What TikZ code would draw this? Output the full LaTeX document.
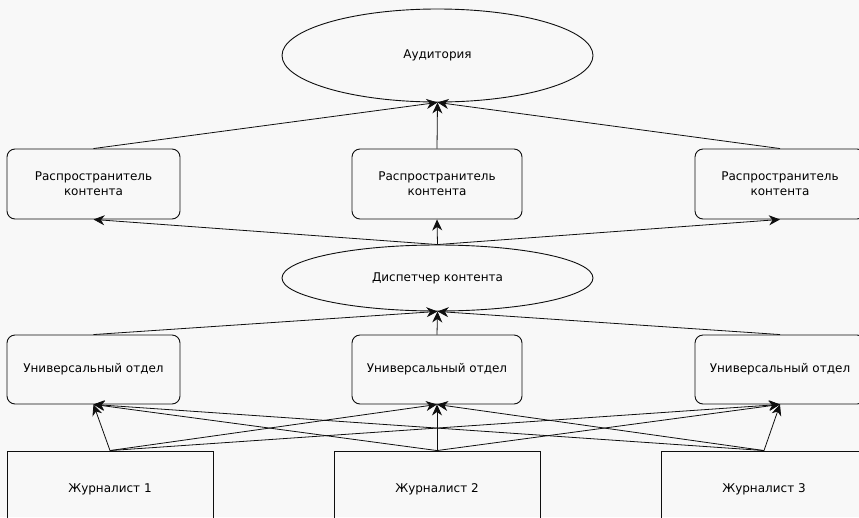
\documentclass[tikz,border=0pt]{standalone}
\usepackage{fontspec}
\setmainfont{DejaVu Sans}
\usetikzlibrary{shapes.geometric,arrows.meta}
\definecolor{bgc}{RGB}{248,248,248}
\definecolor{ln}{RGB}{15,15,15}
\tikzset{
  oval/.style={ellipse,draw=ln,line width=0.9pt,inner sep=0pt,font=\fontsize{12}{14}\selectfont},
  rbox/.style={rectangle,rounded corners=8pt,draw=ln,line width=0.9pt,inner sep=0pt,minimum height=69pt,align=center,font=\fontsize{12}{15}\selectfont},
  jbox/.style={rectangle,draw=ln,line width=0.9pt,inner sep=0pt,minimum width=206pt,minimum height=76pt,font=\fontsize{12}{14}\selectfont},
  arr/.style={draw=ln,line width=0.8pt,-{Stealth[length=11pt,width=10pt,inset=3.5pt]}}
}
\begin{document}
\begin{tikzpicture}[x=1pt,y=-1pt]
\fill[bgc] (0,0) rectangle (859,517);
\useasboundingbox (0,0) rectangle (859,517);
\clip (0,0) rectangle (859,517);
\node[oval,minimum width=311pt,minimum height=93pt] (aud) at (437.5,55.5) {Аудитория};
\node[rbox,minimum width=173pt,minimum height=70pt] (d1) at (93.5,184) {Распространитель\\контента};
\node[rbox,minimum width=170pt,minimum height=70pt] (d2) at (437,184) {Распространитель\\контента};
\node[rbox,minimum width=170pt,minimum height=70pt] (d3) at (780,184) {Распространитель\\контента};
\node[oval,minimum width=311pt,minimum height=66pt] (disp) at (437.5,278) {Диспетчер контента};
\node[rbox,minimum width=173pt] (u1) at (93.5,369.5) {Универсальный отдел};
\node[rbox,minimum width=170pt] (u2) at (437,369.5) {Универсальный отдел};
\node[rbox,minimum width=170pt] (u3) at (780,369.5) {Универсальный отдел};
\node[jbox] (j1) at (110,489) {Журналист 1};
\node[jbox] (j2) at (437,489) {Журналист 2};
\node[jbox] (j3) at (764,489) {Журналист 3};
\foreach \j in {j1,j2,j3}{
  \foreach \u in {u1,u2,u3}{
    \draw[arr] (\j.north) -- (\u.south);
  }
}
\foreach \u in {u1,u2,u3}{\draw[arr] (\u.north) -- (disp.south);}
\foreach \d in {d1,d2,d3}{\draw[arr] (disp.north) -- (\d.south);}
\foreach \d in {d1,d2,d3}{\draw[arr] (\d.north) -- (aud.south);}
\end{tikzpicture}
\end{document}
